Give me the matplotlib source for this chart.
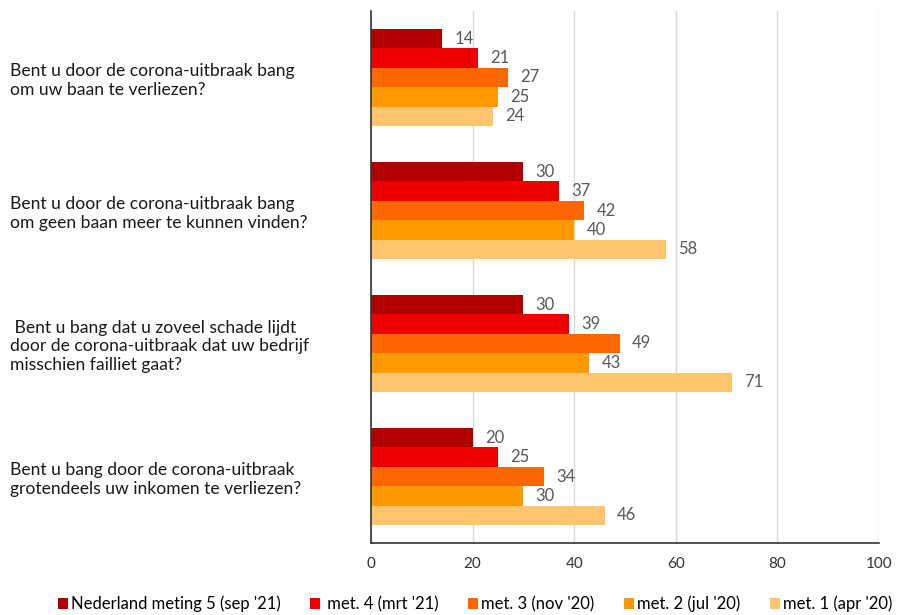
import numpy as np
import matplotlib
matplotlib.use("Agg")
import matplotlib.pyplot as plt
from matplotlib.patches import Patch

plt.rcParams['font.family'] = ['Lato', 'DejaVu Sans']

# %% data
questions = [
    "Bent u door de corona-uitbraak bang\nom uw baan te verliezen?",
    "Bent u door de corona-uitbraak bang\nom geen baan meer te kunnen vinden?",
    " Bent u bang dat u zoveel schade lijdt\ndoor de corona-uitbraak dat uw bedrijf\nmisschien failliet gaat?",
    "Bent u bang door de corona-uitbraak\ngrotendeels uw inkomen te verliezen?",
]
series_names = [
    "Nederland meting 5 (sep '21)",
    " met. 4 (mrt '21)",
    "met. 3 (nov '20)",
    "met. 2 (jul '20)",
    "met. 1 (apr '20)",
]
meting5 = [14, 30, 30, 20]
meting4 = [21, 37, 39, 25]
meting3 = [27, 42, 49, 34]
meting2 = [25, 40, 43, 30]
meting1 = [24, 58, 71, 46]
colors = ['#B20000', '#EE0000', '#FF6600', '#FF9900', '#FFC46E']

# %% plot
series = [meting5, meting4, meting3, meting2, meting1]
fig = plt.figure(figsize=(8.97, 6.15), dpi=100)
ax = fig.add_axes([371/897, 1 - 543/615, (879-371)/897, (543-11)/615])

n = len(questions)
bar_h = 0.146
y_centres = np.arange(n)
for k, (vals, col) in enumerate(zip(series, colors)):
    ypos = y_centres + (k - 2) * bar_h
    ax.barh(ypos, vals, height=bar_h, color=col, zorder=3)
    for y, v in zip(ypos, vals):
        ax.text(v + 2.4, y, str(v), va='center', ha='left', fontsize=12, color='#595959')

ax.set_ylim(n - 0.5, -0.5)
ax.set_xlim(0, 100)
ax.set_xticks([0, 20, 40, 60, 80, 100])
ax.set_yticks(y_centres)
ax.set_yticklabels(questions, fontsize=12.6, color='#1a1a1a')
for lbl in ax.get_yticklabels():
    lbl.set_ha('left')
ax.tick_params(axis='y', length=0, pad=260)
ax.tick_params(axis='x', length=0, pad=10, labelsize=11, labelcolor='#333333')
ax.grid(axis='x', color='#D9D9D9', linewidth=1, zorder=0)
for s in ['top', 'right']:
    ax.spines[s].set_visible(False)
for s in ['left', 'bottom']:
    ax.spines[s].set_color('#333333')
    ax.spines[s].set_linewidth(1.2)
    ax.spines[s].set_zorder(4)

handles = [Patch(facecolor=c, edgecolor='none') for c in colors]
fig.legend(handles, series_names, loc='center', bbox_to_anchor=(475/897, 1 - 604/615),
           ncol=5, frameon=False, fontsize=12, handlelength=0.6, handleheight=0.6,
           handletextpad=0.2, columnspacing=1.75)

fig.savefig('out.png', dpi=100)
